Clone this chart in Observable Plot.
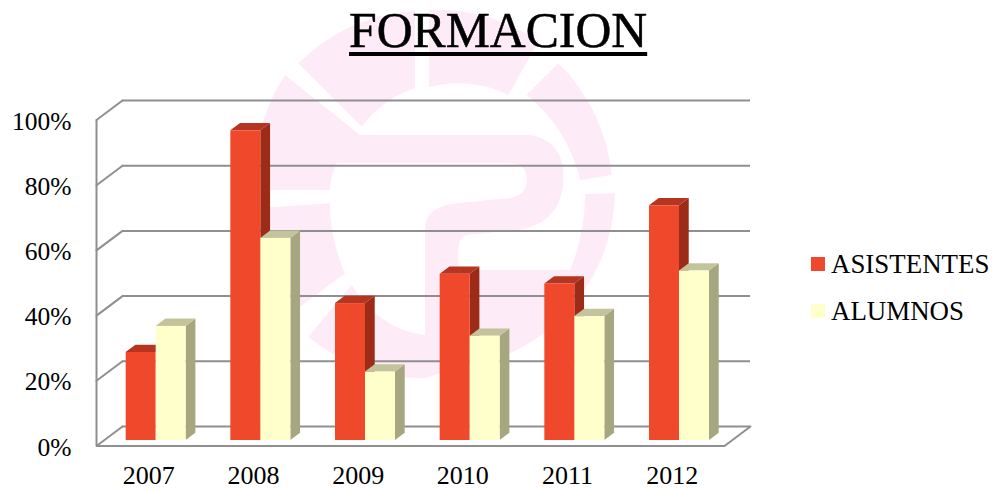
<!DOCTYPE html>
<html lang="es">
<head>
<meta charset="utf-8">
<title>FORMACION</title>
<script src="https://cdn.jsdelivr.net/npm/d3@7"></script>
<script src="https://cdn.jsdelivr.net/npm/@observablehq/plot@0.6"></script>
<style>
  html, body { margin: 0; padding: 0; background: #fff; }
  body { width: 992px; height: 489px; overflow: hidden; position: relative; font-family: "Liberation Serif", serif; color: #000; }
  #title { position: relative; height: 60px; margin: 0; padding-left: 349px; font-size: 49.7px; font-weight: normal; line-height: 62px;
           -webkit-text-stroke: 0.5px #000;
           text-decoration: underline; text-decoration-thickness: 3.5px; text-underline-offset: 5px; white-space: nowrap; }
  #logo { position: absolute; left: 240px; top: 0; width: 400px; height: 390px; }
  #chart { position: relative; }
  #legend { position: absolute; left: 811px; top: 0; font-size: 26.9px; }
  #legend div { position: absolute; left: 0; white-space: nowrap; line-height: 30px; height: 30px; }
  #legend i { position: absolute; left: 0; top: 8px; width: 14px; height: 14px; }
  #legend span { position: absolute; left: 20px; top: 0; }
</style>
</head>
<body>
<svg id="logo" viewBox="0 0 1200 1170" aria-hidden="true">
  <g fill="#fdebf8">
    <path d="M175 190 A540 540 0 0 1 525 32 L525 265 A330 330 0 0 0 365 380 Z"/>
    <path d="M567 30 A540 540 0 0 1 895 125 L805 285 A330 330 0 0 0 567 262 Z"/>
    <path d="M955 190 A540 540 0 0 1 1115 525 L1020 540 A450 450 0 0 0 860 285 Z"/>
    <path d="M1125 580 A540 540 0 0 1 810 1060 L655 1100 L655 810 L990 810 Q1035 700 1035 582 Z"/>
    <path d="M135 225 A540 540 0 0 0 48 570 L270 570 Q275 470 360 405 Z"/>
    <path d="M50 625 A540 540 0 0 0 180 920 L315 820 Q270 720 270 610 Z"/>
    <path d="M205 1010 A540 540 0 0 0 555 1135 L555 1005 Q420 990 335 855 Z"/>
    <path d="M360 405 L870 405 Q970 420 970 530 Q970 670 830 690 L680 705 Q655 710 655 760 L655 1100 L555 1135 L555 680 Q560 620 650 610 L800 595 Q860 590 860 540 Q860 490 810 490 L285 490 Q320 430 360 405 Z"/>
  </g>
</svg>
<h1 id="title">FORMACION</h1>
<div id="chart"></div>
<div id="legend"></div>
<script>
const years = ["2007", "2008", "2009", "2010", "2011", "2012"];
const asistentes = [27, 95, 42, 51, 48, 72];
const alumnos = [35, 62, 21, 32, 38, 52];
const yTicks = [0, 20, 40, 60, 80, 100];
const seriesNames = ["ASISTENTES", "ALUMNOS"];
const frontColors = ["#f0482a", "#ffffcc"];
const sideColors = ["#9c2b18", "#a6a680"];
const topColors = ["#b53520", "#c4c49c"];
const gridColor = "#8f8f8f";

// Oblique projection of the 3-D box, in scale units
const depthX = 0.2484, depthY = 5.98;
const barStart = 0.282, barDepth = 0.374, barWidth = 0.2866;
const px = (c, d) => c + d * depthX;
const py = (v, d) => v + d * depthY;

function bars(values, s) {
  return values.map((v, i) => {
    const x0 = px(i + 0.5 + (s - 1) * barWidth, barStart);
    return {key: years[i], x0, x1: x0 + barWidth, base: py(0, barStart), v: py(v, barStart)};
  });
}
function sideFace(rows) {
  return rows.flatMap(r => [0, barDepth].map(d => ({
    key: r.key, x: r.x1 + d * depthX, y1: r.base + d * depthY, y2: r.v + d * depthY
  })));
}
function topFace(rows) {
  return rows.flatMap(r => [0, barDepth].map(d => ({
    key: r.key, y: r.v + d * depthY, x1: r.x0 + d * depthX, x2: r.x1 + d * depthX
  })));
}
const sets = [bars(asistentes, 0), bars(alumnos, 1)];

const backLines = yTicks.map(t => ({x1: px(0, 1), x2: px(6, 1), y: py(t, 1)}));
const wallLines = yTicks.flatMap(t => [0, 1].map(d => ({t, x: px(0, d), y: py(t, d)})));
const floorRight = [0, 1].map(d => ({x: px(6, d), y: py(0, d)}));

const barMarks = sets.flatMap((rows, s) => [
  Plot.areaY(sideFace(rows), {x: "x", y1: "y1", y2: "y2", z: "key", fill: sideColors[s]}),
  Plot.areaX(topFace(rows), {y: "y", x1: "x1", x2: "x2", z: "key", fill: topColors[s]}),
  Plot.rect(rows, {x1: "x0", x2: "x1", y1: "base", y2: "v", fill: frontColors[s]})
]);

const chart = Plot.plot({
  width: 992,
  height: 429,
  marginTop: 59.5,
  marginBottom: 43.5,
  marginLeft: 96,
  marginRight: 268,
  style: {fontFamily: "'Liberation Serif', serif", background: "transparent", overflow: "visible"},
  x: {type: "linear", domain: [0, 6]},
  y: {type: "linear", domain: [0, 100]},
  marks: [
    Plot.ruleY(backLines, {x1: "x1", x2: "x2", y: "y", stroke: gridColor, strokeWidth: 2}),
    Plot.line(wallLines, {x: "x", y: "y", z: "t", stroke: gridColor, strokeWidth: 2}),
    Plot.line(floorRight, {x: "x", y: "y", stroke: gridColor, strokeWidth: 2}),
    Plot.ruleX([0], {y1: 0, y2: 100, stroke: gridColor, strokeWidth: 2}),
    Plot.ruleY([0], {x1: 0, x2: 6, stroke: gridColor, strokeWidth: 2}),
    ...barMarks,
    Plot.axisY({
      ticks: yTicks, tickFormat: d => d + "%", tickSize: 0, tickPadding: 25, dy: 1.5,
      fontSize: 25.5, label: null, fill: "#000"
    }),
    Plot.axisX({
      ticks: years.map((_, i) => i + 0.5), tickFormat: d => years[Math.floor(d)],
      tickSize: 0, tickPadding: 20, fontSize: 26, label: null, fill: "#000"
    })
  ]
});
document.getElementById("chart").append(chart);

const legendTops = [249, 296];
const legend = document.getElementById("legend");
seriesNames.forEach((name, i) => {
  const row = document.createElement("div");
  row.style.top = legendTops[i] + "px";
  const swatch = document.createElement("i");
  swatch.style.background = frontColors[i];
  const label = document.createElement("span");
  label.textContent = name;
  row.append(swatch, label);
  legend.append(row);
});
</script>
</body>
</html>
